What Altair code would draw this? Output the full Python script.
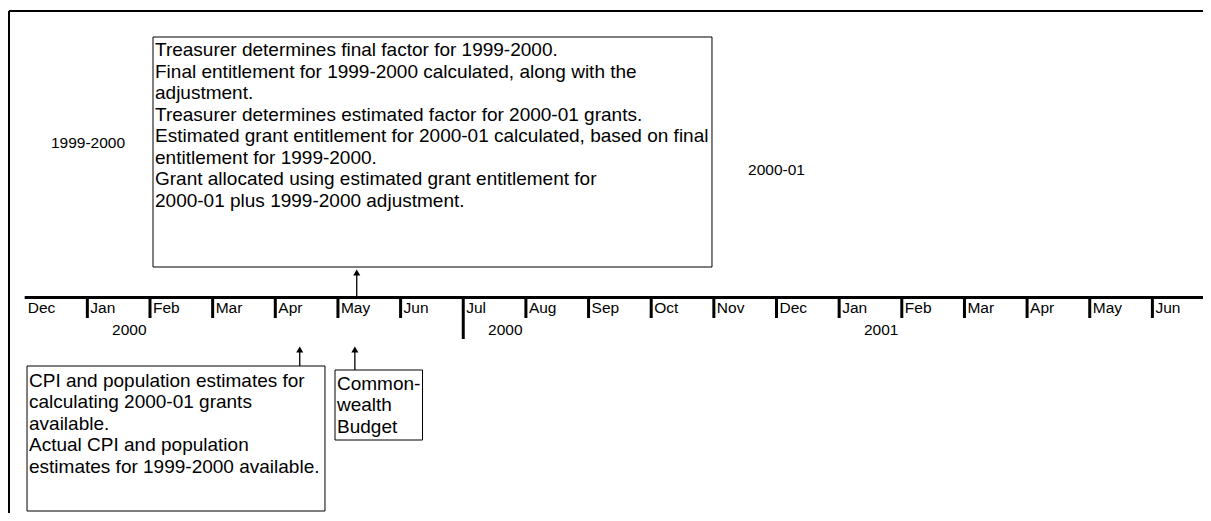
import altair as alt
import pandas as pd

# ---- data ----
months = ["Dec", "Jan", "Feb", "Mar", "Apr", "May", "Jun", "Jul", "Aug", "Sep",
          "Oct", "Nov", "Dec", "Jan", "Feb", "Mar", "Apr", "May", "Jun"]
year_labels = ["2000", "2000", "2001"]
year_month_idx = [1, 7, 13]          # Jan 2000, Jul 2000 (new fiscal year), Jan 2001
fiscal_labels = ["1999-2000", "2000-01"]
fiscal_month_pos = [1.01, 12.0]

box_texts = [
    "Treasurer determines final factor for 1999-2000.\n"
    "Final entitlement for 1999-2000 calculated, along with the\n"
    "adjustment.\n"
    "Treasurer determines estimated factor for 2000-01 grants.\n"
    "Estimated grant entitlement for 2000-01 calculated, based on final\n"
    "entitlement for 1999-2000.\n"
    "Grant allocated using estimated grant entitlement for\n"
    "2000-01 plus 1999-2000 adjustment.",
    "CPI and population estimates for\n"
    "calculating 2000-01 grants\n"
    "available.\n"
    "Actual CPI and population\n"
    "estimates for 1999-2000 available.",
    "Common-\n"
    "wealth\n"
    "Budget",
]
arrow_month_pos = [5.30, 4.39, 5.27]   # month position each event arrow points at

# ---- layout (plot geometry) ----
W, H = 1195, 505
PX0 = 24.7      # page x of month 0
PXM = 62.65     # pixels per month
xmin = (8 - PX0) / PXM
xmax = (8 + W - PX0) / PXM
xs = alt.Scale(domain=[xmin, xmax], nice=False, zero=False)
ys = alt.Scale(domain=[8, 8 + H], nice=False, zero=False, reverse=True)

FONT = "Liberation Sans"
AXIS_Y = 297.5
box_geom = [  # x0, x1 (months), y0, y1, text y, arrow from, arrow tip
    (2.048, 10.97, 37, 267, 41, 297, 268),
    (0.037, 4.793, 366, 511, 371.5, 366, 345),
    (4.953, 6.35, 370, 440, 374.5, 370, 345),
]

def X(field="m"):
    return alt.X(f"{field}:Q", scale=xs, axis=None)

def Y(field="y"):
    return alt.Y(f"{field}:Q", scale=ys, axis=None)

layers = []

# frame
fx = (9 - PX0) / PXM
frame = pd.DataFrame({"m": [fx, fx], "m2": [xmax + 1, fx],
                      "y": [11, 11], "y2": [11, 8 + H + 5]})
layers.append(alt.Chart(frame).mark_rule(color="black", strokeWidth=2).encode(
    x=X(), x2="m2:Q", y=Y(), y2="y2:Q"))

# timeline main line
tl = pd.DataFrame({"m": [0], "m2": [xmax + 1], "y": [AXIS_Y]})
layers.append(alt.Chart(tl).mark_rule(color="black", strokeWidth=3).encode(
    x=X(), x2="m2:Q", y=Y()))

# month ticks
tick_df = pd.DataFrame({"m": list(range(1, len(months))),
                        "y": [AXIS_Y] * (len(months) - 1),
                        "y2": [339 if i == 7 else 318 for i in range(1, len(months))]})
layers.append(alt.Chart(tick_df).mark_rule(color="black", strokeWidth=3).encode(
    x=X(), y=Y(), y2="y2:Q"))

# month labels
mdf = pd.DataFrame({"m": list(range(len(months))), "label": months, "y": [308] * len(months)})
layers.append(alt.Chart(mdf).mark_text(align="left", baseline="middle", dx=3,
                                        font=FONT, fontSize=15.5, color="black").encode(
    x=X(), y=Y(), text="label:N"))

# year labels
ydf = pd.DataFrame({"m": year_month_idx, "label": year_labels, "y": [330] * 3})
layers.append(alt.Chart(ydf).mark_text(align="center", baseline="middle", dx=42,
                                        font=FONT, fontSize=15.5, color="black").encode(
    x=X(), y=Y(), text="label:N"))

# fiscal year labels
fdf = pd.DataFrame({"m": fiscal_month_pos, "label": fiscal_labels, "y": [143, 170]})
layers.append(alt.Chart(fdf).mark_text(align="center", baseline="middle",
                                        font=FONT, fontSize=15.5, color="black").encode(
    x=X(), y=Y(), text="label:N"))

# boxes
bdf = pd.DataFrame({"m": [g[0] for g in box_geom], "m2": [g[1] for g in box_geom],
                    "y": [g[2] for g in box_geom], "y2": [g[3] for g in box_geom]})
layers.append(alt.Chart(bdf).mark_rect(fill="white", stroke="black", strokeWidth=1).encode(
    x=X(), x2="m2:Q", y=Y(), y2="y2:Q"))

# box texts
for (x0, x1, y0, y1, ty, a0, a1), txt in zip(box_geom, box_texts):
    tdf = pd.DataFrame({"m": [x0], "y": [ty], "label": [txt]})
    layers.append(alt.Chart(tdf).mark_text(align="left", baseline="top", dx=2,
                                            lineBreak="\n", lineHeight=21.5,
                                            font=FONT, fontSize=19, color="black").encode(
        x=X(), y=Y(), text="label:N"))

# arrows
adf = pd.DataFrame({"m": arrow_month_pos,
                    "y": [g[5] for g in box_geom],
                    "y2": [g[6] + 5 for g in box_geom]})
layers.append(alt.Chart(adf).mark_rule(color="black", strokeWidth=1.3).encode(
    x=X(), y=Y(), y2="y2:Q"))
hdf = pd.DataFrame({"m": arrow_month_pos, "y": [g[6] + 4.5 for g in box_geom]})
layers.append(alt.Chart(hdf).mark_point(shape="triangle-up", filled=True, size=50,
                                         color="black", opacity=1).encode(
    x=X(), y=Y()))

chart = alt.layer(*layers).properties(
    width=W, height=H, padding=0, autosize=alt.AutoSizeParams(type="none"),
    background="white"
).configure_view(strokeWidth=0)

chart.save("out.html", embed_options={"renderer": "svg", "actions": False})
